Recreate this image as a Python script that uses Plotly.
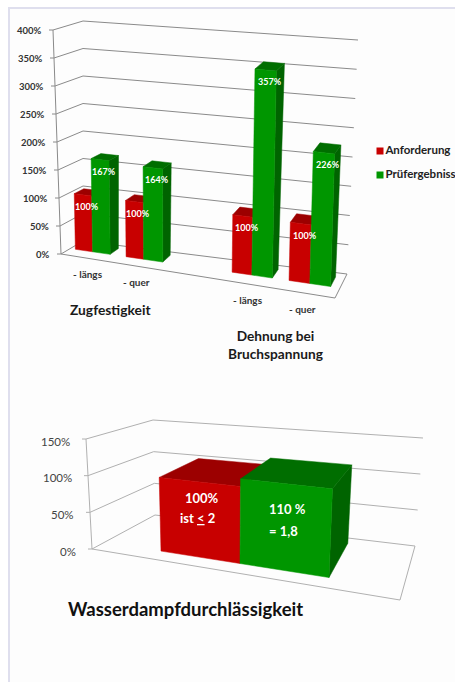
import plotly.graph_objects as go

# ---------- data ----------
SERIES = ["Anforderung", "Prüfergebnis"]
SERIES_LABELS = ["Anforderung", "Prüfergebniss"]
MEASURES = ["- längs", "- quer", "- längs", "- quer"]
GROUPS = ["Zugfestigkeit", "Dehnung bei<br>Bruchspannung"]
ANFORDERUNG = [100, 100, 100, 100]
PRUEFERGEBNIS = [167, 164, 357, 226]
TICKS_TOP = [0, 50, 100, 150, 200, 250, 300, 350, 400]
BOTTOM_TITLE = "Wasserdampfdurchlässigkeit"
BOTTOM_ANFORDERUNG = 100
BOTTOM_PRUEF = 110
BOTTOM_TEXTS = ["100%", "ist <u>&lt;</u> 2", "110 %", "= 1,8"]
TICKS_BOTTOM = [0, 50, 100, 150]

# ---------- style and layout ----------
FONT = "Lato"
RED, RED_TOP = "#C80000", "#9C0000"
GREEN, GREEN_TOP, GREEN_SIDE = "#009600", "#006E00", "#006400"

TOP_BOX = dict(vmax=400, FLB=(61, 254), FLT=(53, 30), BLB=(83, 241), BLT=(83, 21),
               FRB=(335, 298), FRT=(340, 62), BRB=(347, 274), BRT=(358, 40))
BOT_BOX = dict(vmax=150, FLB=(92, 549), FLT=(86, 439), BLB=(155, 515), BLT=(153, 420),
               FRB=(400, 600), FRT=(408, 470), BRB=(415, 546), BRT=(423, 438))
TOP_SLOTS = [(.019, .083, .148), (.207, .272, .343), (.600, .673, .749), (.811, .888, .965)]
TOP_DEPTH = (.42, .82)
TOP_LABEL_U = [.0985, .277, .682, .883]
BOT_SLOT = (.189, .4537, .752)
BOT_DEPTH = (.2, .9)
BOT_TEXT_POS = [(202, 498), (197, 518), (287, 509), (283, 531)]


def lerp(a, b, t):
    return (a[0] + (b[0] - a[0]) * t, a[1] + (b[1] - a[1]) * t)


def project(box, u, d, value):
    """Map category position u, depth d and a value through the chart's 3D box."""
    t = value / box["vmax"]
    front = lerp(lerp(box["FLB"], box["FRB"], u), lerp(box["FLT"], box["FRT"], u), t)
    back = lerp(lerp(box["BLB"], box["BRB"], u), lerp(box["BLT"], box["BRT"], u), t)
    return lerp(front, back, d)


fig = go.Figure()


def poly(points, color):
    xs = [p[0] for p in points] + [points[0][0]]
    ys = [p[1] for p in points] + [points[0][1]]
    fig.add_trace(go.Scatter(x=xs, y=ys, mode="lines", fill="toself", fillcolor=color,
                             line=dict(color=color, width=0.5), showlegend=False,
                             hoverinfo="skip"))


def line(points, color, width=1, dash="solid"):
    fig.add_trace(go.Scatter(x=[p[0] for p in points], y=[p[1] for p in points], mode="lines",
                             line=dict(color=color, width=width, dash=dash), showlegend=False,
                             hoverinfo="skip"))


def bar(box, u0, u1, depth, value, face, top, side=None):
    d0, d1 = depth
    p = lambda u, d, v: project(box, u, d, v)
    if side:
        poly([p(u1, d0, 0), p(u1, d1, 0), p(u1, d1, value), p(u1, d0, value)], side)
    poly([p(u0, d0, value), p(u1, d0, value), p(u1, d1, value), p(u0, d1, value)], top)
    poly([p(u0, d0, 0), p(u1, d0, 0), p(u1, d0, value), p(u0, d0, value)], face)


def text(x, y, s, size, color, bold=False, anchor="center", align="center"):
    fig.add_annotation(x=x, y=y, text=f"<b>{s}</b>" if bold else s, showarrow=False,
                       xanchor=anchor, yanchor="middle", xref="x", yref="y",
                       font=dict(family=FONT, size=size, color=color), align=align)


def walls(box, ticks, color, width):
    for v in ticks:
        a, b, c = project(box, 0, 0, v), project(box, 0, 1, v), project(box, 1, 1, v)
        line([(a[0] - 4, a[1]), a, b, c], color, width)
    line([project(box, 0, 0, 0), project(box, 1, 0, 0), project(box, 1, 1, 0)], color, width)
    line([project(box, 0, 0, 0), project(box, 0, 0, box["vmax"])], color, width)


# ---------- top chart ----------
walls(TOP_BOX, TICKS_TOP, "#8A8A8A", 1)
for (u0, u1, u2), a, b in zip(TOP_SLOTS, ANFORDERUNG, PRUEFERGEBNIS):
    bar(TOP_BOX, u0, u1, TOP_DEPTH, a, RED, RED_TOP)
    bar(TOP_BOX, u1, u2, TOP_DEPTH, b, GREEN, GREEN_TOP, GREEN_SIDE)
for v in TICKS_TOP:
    px, py = project(TOP_BOX, 0, 0, v)
    text(px - 9, py, f"{v}%", 9.5, "#333333", True, "right")
for (u0, u1, u2), a, b in zip(TOP_SLOTS, ANFORDERUNG, PRUEFERGEBNIS):
    for ul, ur, v in ((u0, u1, a), (u1, u2, b)):
        px, py = project(TOP_BOX, (ul + ur) / 2, TOP_DEPTH[0], v)
        text(px + 4, py + 12, f"{v}%", 9, "#FFFFFF", True)
for u, m in zip(TOP_LABEL_U, MEASURES):
    px, py = project(TOP_BOX, u, 0, 0)
    text(px, py + 16, m, 10, "#333333", True)
text(110, 309, GROUPS[0], 13.8, "#1A1A1A", True)
text(275, 344, GROUPS[1], 13.7, "#1A1A1A", True)

# key entries, drawn as marked text so the small key-to-label gap can be kept
for name, label, color, ly in zip(SERIES, SERIES_LABELS, (RED, GREEN), (151, 175)):
    fig.add_trace(go.Scatter(x=[380], y=[ly], mode="markers+text", name=name, text=[f"<b>{label}</b>"],
                             textposition="middle right", cliponaxis=False, showlegend=False,
                             marker=dict(symbol="square", size=7, color=color),
                             textfont=dict(family=FONT, size=11.5, color="#222222"),
                             hoverinfo="skip"))

# ---------- bottom chart ----------
walls(BOT_BOX, TICKS_BOTTOM, "#B0B0B0", 1)
bar(BOT_BOX, BOT_SLOT[0], BOT_SLOT[1], BOT_DEPTH, BOTTOM_ANFORDERUNG, RED, RED_TOP)
bar(BOT_BOX, BOT_SLOT[1], BOT_SLOT[2], BOT_DEPTH, BOTTOM_PRUEF, GREEN, GREEN_TOP, GREEN_SIDE)
for v in TICKS_BOTTOM:
    px, py = project(BOT_BOX, 0, 0, v)
    text(px - 14, py + 2, f"{v}%", 11.5, "#444444", False, "right")
for s, (tx, ty) in zip(BOTTOM_TEXTS, BOT_TEXT_POS):
    text(tx, ty, s, 13, "#FFFFFF", True)
text(185.5, 609, BOTTOM_TITLE, 18.5, "#111111", True)

# ---------- page ----------
fig.update_layout(
    width=455, height=682, margin=dict(l=0, r=0, t=0, b=0),
    paper_bgcolor="#FFFFFF", plot_bgcolor="#FFFFFF",
    xaxis=dict(range=[0, 455], visible=False, fixedrange=True),
    yaxis=dict(range=[682, 0], visible=False, fixedrange=True),
    showlegend=False,
    shapes=[
        dict(type="rect", xref="x", yref="y", x0=10, x1=455, y0=9, y1=682,
             fillcolor="#FDFDFD", line_width=0, layer="below"),
        dict(type="rect", xref="x", yref="y", x0=8, x1=10, y0=7, y1=682,
             fillcolor="#DFDFEE", line_width=0, layer="below"),
        dict(type="rect", xref="x", yref="y", x0=8, x1=455, y0=7, y1=9,
             fillcolor="#DFDFEE", line_width=0, layer="below"),
    ],
)
fig.write_html("out.html", config={"displayModeBar": False},
               post_script="document.body.style.margin='0';")
